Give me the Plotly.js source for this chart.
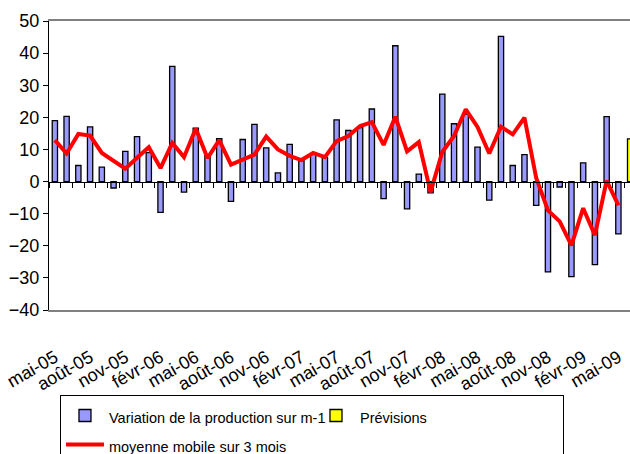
<!DOCTYPE html>
<html>
<head>
<meta charset="utf-8">
<script src="https://cdn.plot.ly/plotly-3.0.1.min.js"></script>
<style>
html, body { margin: 0; padding: 0; overflow: hidden; background: #fff; }
#chart { width: 640px; height: 454px; }
</style>
</head>
<body>
<div id="chart"></div>
<script>
const months = [
  "mai-05","juin-05","juil-05","août-05","sept-05","oct-05","nov-05","déc-05",
  "janv-06","févr-06","mars-06","avr-06","mai-06","juin-06","juil-06","août-06","sept-06","oct-06","nov-06","déc-06",
  "janv-07","févr-07","mars-07","avr-07","mai-07","juin-07","juil-07","août-07","sept-07","oct-07","nov-07","déc-07",
  "janv-08","févr-08","mars-08","avr-08","mai-08","juin-08","juil-08","août-08","sept-08","oct-08","nov-08","déc-08",
  "janv-09","févr-09","mars-09","avr-09","mai-09","juin-09"
];
const variationMonths = months.slice(0, 49);
const variation = [
  19, 20.3, 5, 17, 4.5, -2, 9.4, 14,
  9, -9.6, 35.9, -3.3, 16.6, 8.2, 13.4, -6.2, 13.1, 17.8, 10.5, 2.7,
  11.6, 6.5, 8.5, 7.5, 19.2, 15.9, 16.8, 22.6, -5.3, 42.3, -8.5, 2.3,
  -3.5, 27.2, 18, 21, 10.7, -5.8, 45.2, 5, 8.4, -7.4, -28.1, -1.7,
  -29.6, 5.8, -25.9, 20.2, -16.3
];
const forecastMonths = ["juin-09"];
const forecast = [13.3];
const movingAvg = [
  12.9, 8.75, 14.8, 14.3, 8.9, 6.6, 4.0, 7.4,
  10.7, 4.2, 12, 7.6, 16.5, 7.3, 12.9, 5.3, 7, 8.4, 14, 10,
  8, 6.7, 8.9, 7.6, 12.6, 14.2, 17.3, 18.5, 11.4, 20.2, 9.4, 12.3,
  -3.3, 9.2, 14.2, 22.5, 17, 8.75, 17.1, 14.7, 19.9, 1.1, -9, -12.4,
  -19.9, -8.3, -16.7, 0.3, -7.4
];
const tickLabels = ["mai-05","août-05","nov-05","févr-06","mai-06","août-06","nov-06","févr-07","mai-07","août-07","nov-07","févr-08","mai-08","août-08","nov-08","févr-09","mai-09"];
const names = ["Variation de la production sur m-1", "Prévisions", "moyenne mobile sur 3 mois"];

const FONT = "'Liberation Sans', Arial, sans-serif";
const legendName = s => '<span style="font-size:14.5px">' + s + '</span>';

const traces = [
  {
    type: 'bar', x: variationMonths, y: variation, name: legendName(names[0]),
    xaxis: 'x', yaxis: 'y', width: 0.45,
    marker: { color: '#9999FF', line: { color: '#000000', width: 1.3 } }
  },
  {
    type: 'bar', x: forecastMonths, y: forecast, name: legendName(names[1]),
    xaxis: 'x', yaxis: 'y', width: 0.45,
    marker: { color: '#FFFF00', line: { color: '#000000', width: 1.3 } }
  },
  {
    type: 'scatter', mode: 'lines', x: variationMonths, y: movingAvg, name: legendName(names[2]),
    xaxis: 'x2', yaxis: 'y',
    line: { color: '#FF0000', width: 4 }
  }
];

const rng = [-0.5, months.length - 0.5];

const layout = {
  width: 640, height: 454,
  margin: { l: 49, r: 4, t: 21, b: 144, autoexpand: false },
  paper_bgcolor: '#ffffff', plot_bgcolor: '#ffffff',
  font: { family: FONT, color: '#000000' },
  barmode: 'overlay',
  showlegend: true,
  xaxis: {
    type: 'category', categoryorder: 'array', categoryarray: months,
    range: rng, automargin: false,
    tickmode: 'array', tickvals: tickLabels, ticktext: tickLabels,
    tickangle: -30, ticks: '', ticklabelstandoff: 28,
    tickfont: { family: FONT, size: 18, color: '#000' },
    showline: true, linecolor: '#808080', linewidth: 2, mirror: true,
    showgrid: false, zeroline: false
  },
  xaxis2: {
    type: 'category', categoryorder: 'array', categoryarray: months,
    range: rng, overlaying: 'x', anchor: 'free', position: 4 / 9,
    showticklabels: false, ticks: 'outside', ticklen: 5, tickwidth: 1, tickcolor: '#000',
    tickson: 'boundaries', dtick: 1,
    showline: true, linecolor: '#000', linewidth: 1,
    showgrid: false, zeroline: false
  },
  yaxis: {
    range: [-40, 50], dtick: 10, tick0: 0, automargin: false,
    ticks: 'outside', ticklen: 5, tickcolor: '#000', tickwidth: 1,
    tickfont: { family: FONT, size: 18, color: '#000' },
    showline: true, linecolor: '#000', linewidth: 1,
    showgrid: false, zeroline: false
  },
  legend: {
    orientation: 'h', x: 0.0187, xanchor: 'left', y: -0.2941, yanchor: 'top',
    bgcolor: '#ffffff', bordercolor: '#000000', borderwidth: 1,
    font: { family: FONT, size: 20, color: '#000' },
    itemwidth: 38, entrywidth: 198, entrywidthmode: 'pixels',
    traceorder: 'normal'
  }
};

Plotly.newPlot('chart', traces, layout, { displayModeBar: false, staticPlot: true });
</script>
</body>
</html>
